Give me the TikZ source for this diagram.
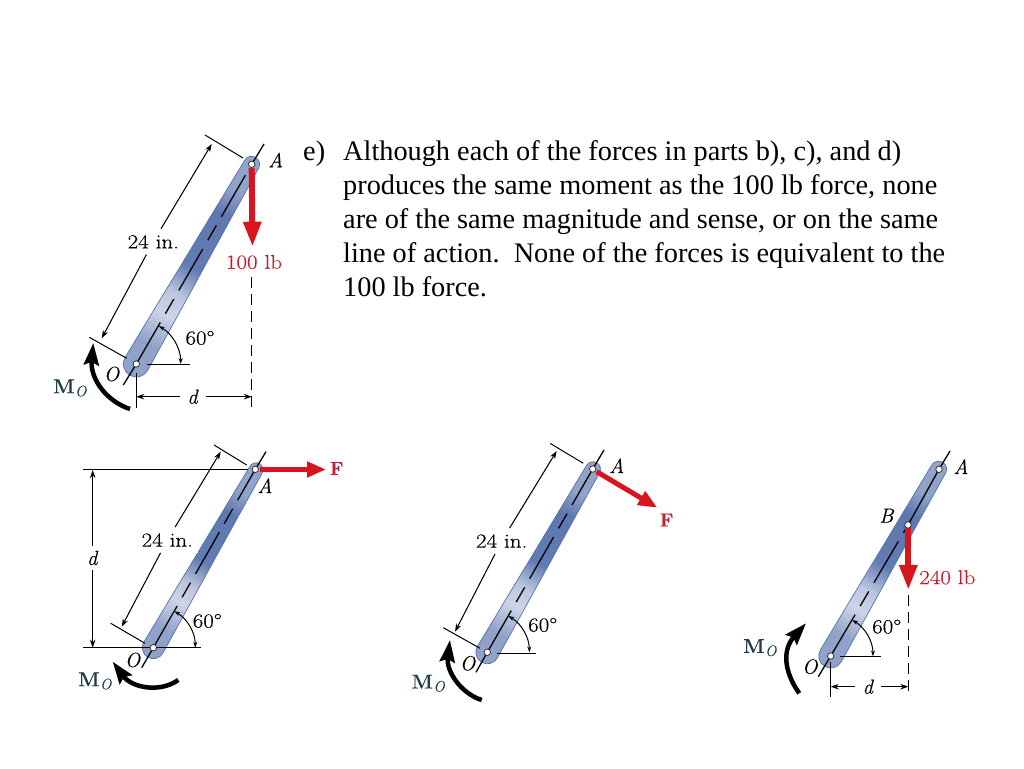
\documentclass[tikz,border=0pt]{standalone}
\usepackage{fontspec}
\usepackage{graphicx}
\usetikzlibrary{arrows.meta,calc}
\newfontfamily\bodyfont{Liberation Serif}
\newfontfamily\lblfont[FakeBold=0.25]{Latin Modern Roman}
\definecolor{forcered}{HTML}{D8141E}
\definecolor{labelred}{HTML}{C41E2E}
\definecolor{labelteal}{HTML}{1F3D4A}
\definecolor{rodedge}{HTML}{5570AC}
\pgfdeclareverticalshading{rodsh}{100bp}{
 color(0bp)=(rodedge!65!white);
 color(27bp)=(rodedge!65!white);
 color(36bp)=(rodedge!30!white);
 color(42bp)=(rodedge!40!white);
 color(50bp)=(rodedge!92!white);
 color(66bp)=(rodedge!95!white);
 color(73bp)=(rodedge!65!white);
 color(100bp)=(rodedge!60!white)}
\tikzset{
 lbl/.style={font=\lblfont\fontsize{20.5}{22}\selectfont,inner sep=0pt,text=black},
 wlbl/.style={font=\lblfont\fontsize{20}{22}\selectfont,inner sep=0pt,text=black},
 redlbl/.style={wlbl,text=labelred},
 gaplbl/.style={wlbl,fill=white,inner xsep=5pt,inner ysep=6pt},
 textline/.style={anchor=base west,inner sep=0pt,font=\bodyfont\fontsize{28.3}{34}\selectfont},
 thin line/.style={line width=1pt,black},
 dim/.style={line width=1.05pt,black,-{Stealth[length=8pt,width=5.5pt]}},
 ctr/.style={line width=1.3pt,black},
 ctrdash/.style={ctr,dash pattern=on 48pt off 10pt on 17pt off 10pt},
 leader/.style={line width=1.2pt,black,dash pattern=on 11pt off 6pt},
 force/.style={line width=6pt,forcered,-{Triangle[length=25pt,width=17pt]}},
 forcethin/.style={line width=5pt,forcered,-{Triangle[length=19pt,width=15pt]}},
 moment/.style={line width=4.5pt,black,-{Stealth[length=22pt,width=15pt,inset=3pt]}},
 ang/.style={line width=1pt,black,{Stealth[length=6pt,width=4pt]}-{Stealth[length=6pt,width=4pt]}},
 hole/.style={circle,draw=black!80,line width=0.8pt,fill=white,inner sep=0pt,minimum size=6.5pt},
 flab/.style={lbl,text=labelred,font=\lblfont\bfseries\fontsize{19}{21}\selectfont},
 mlab/.style={lbl,text=labelteal,font=\lblfont\fontsize{20}{22}\selectfont},
}
% pixel coordinate, y measured from the top
\newcommand\pxc[3]{\coordinate (#1) at (#2,{768-#3});}
\newcommand\wtxt[1]{\scalebox{1.15}[1]{#1}}
% tapered bar: origin, length, radius at O, radius at A
\newcommand\rodbar[4]{%
 \begin{scope}[shift={(#1)},rotate=60]
 \path[shading=rodsh,shading angle=-30,draw=rodedge,line width=0.7pt]
   (0,-#3) -- (#2,-#4) arc (-90:90:#4) -- (0,#3) arc (90:270:#3) -- cycle;
 \end{scope}}
\newcommand\Mo{\textbf{M}\kern0.5pt\raisebox{-3pt}{\fontsize{15}{16}\selectfont\textit{O}}}
\begin{document}
\begin{tikzpicture}[x=1pt,y=1pt]
\useasboundingbox (0,0) rectangle (1024,768);

% ---------- text
\node[textline] (ee) at (303,{768-160.5}) {e)};
\node[textline] (l1) at (343,{768-160.5}) {Although each of the forces in parts b), c), and d)};
\node[textline] (l2) at (343,{768-194.5}) {produces the same moment as the 100 lb force, none};
\node[textline] (l3) at (343,{768-228.5}) {are of the same magnitude and sense, or on the same};
\node[textline] (l4) at (343,{768-262.5}) {line of action.\ \ None of the forces is equivalent to the};
\node[textline] (l5) at (343,{768-296.5}) {100 lb force.};

% ---------- figure 1
\pxc{oa}{136.3}{364}\pxc{aa}{251.7}{164.3}
\rodbar{oa}{230.6}{13}{8}
\pxc{oaTop}{264}{144}\pxc{oaBot}{123.3}{385}
\draw[ctr] (oa) -- (oaBot);
\draw[ctrdash] (oa) -- (aa);
\draw[ctr] (aa) -- (oaTop);
\pxc{e1a}{205}{135}\pxc{e1b}{243}{158}\pxc{e1c}{89.3}{337.3}\pxc{e1d}{126.7}{358.3}
\draw[thin line] (e1a) -- (e1b);
\draw[thin line] (e1c) -- (e1d);
\node[gaplbl] (t1) at (153.3,{768-241.7}) {\wtxt{24 in.}};
\pxc{d1a}{211.7}{144}\pxc{d1b}{101.7}{338.3}
\draw[dim] (t1) -- (d1a);
\draw[dim] (t1) -- (d1b);
\pxc{h1s}{146.7}{364.5}\pxc{h1}{190}{364.5}
\draw[thin line] (h1s) -- (h1);
\pxc{a1s}{158.7}{326}
\draw[ang] (a1s) arc (60:0:44);
\node[wlbl] (ang1) at (200,{768-338}) {\wtxt{60°}};
\pxc{f1s}{251.7}{168}\pxc{f1e}{252.5}{246.7}
\draw[force] (f1s) -- (f1e);
\node[redlbl] (f1) at (254,{768-262}) {\wtxt{100 lb}};
\pxc{l1a}{251.7}{277}\pxc{l1b}{251.7}{408}
\draw[leader] (l1a) -- (l1b);
\pxc{x1a}{136.3}{373}\pxc{x1b}{136.3}{408}
\draw[thin line] (x1a) -- (x1b);
\node[lbl,fill=white,inner xsep=7pt,inner ysep=2pt] (d1) at (193,{768-396.7}) {\textit{d}};
\pxc{d1l}{136.3}{396.7}\pxc{d1r}{251.7}{396.7}
\draw[dim] (d1) -- (d1l);
\draw[dim] (d1) -- (d1r);
\pxc{m1a}{130}{409}\pxc{m1c}{108}{402}\pxc{m1d}{90}{380}\pxc{m1b}{93.3}{343}
\draw[moment] (m1a) .. controls (m1c) and (m1d) .. (m1b);
\node[hole] (ha) at (aa) {};
\node[hole] (ho) at (oa) {};
\node[lbl] (lA1) at (275.7,{768-160}) {\textit{A}};
\node[lbl] (lO1) at (111.7,{768-374}) {\textit{O}};
\node[mlab] (lM1) at (70,{768-388}) {\Mo};

% ---------- figure 2
\pxc{ob}{153.3}{647.7}\pxc{ab}{255.3}{469.3}
\rodbar{ob}{205.5}{11}{7}
\pxc{obTop}{266}{451.7}\pxc{obBot}{141.7}{667.7}
\draw[ctr] (ob) -- (obBot);
\draw[ctrdash] (ob) -- (ab);
\draw[ctr] (ab) -- (obTop);
\pxc{e2a}{214}{445}\pxc{e2b}{246.7}{465}\pxc{e2c}{110.7}{623.3}\pxc{e2d}{145}{643.3}
\draw[thin line] (e2a) -- (e2b);
\draw[thin line] (e2c) -- (e2d);
\node[gaplbl] (t2) at (167.3,{768-540}) {\wtxt{24 in.}};
\pxc{d2a}{220.7}{451.7}\pxc{d2b}{121.7}{626.7}
\draw[dim] (t2) -- (d2a);
\draw[dim] (t2) -- (d2b);
\pxc{h2a}{83.3}{469.7}\pxc{h2b}{248}{469.7}\pxc{h2c}{83.3}{647.7}\pxc{h2d}{200.7}{647.7}
\draw[thin line] (h2a) -- (h2b);
\draw[thin line] (h2c) -- (ob);
\draw[thin line] (ob) -- (h2d);
\node[lbl,fill=white,inner ysep=5pt,inner xsep=2pt] (d2) at (92.7,{768-558}) {\textit{d}};
\pxc{d2t}{92.7}{470}\pxc{d2u}{92.7}{647.7}
\draw[dim] (d2) -- (d2t);
\draw[dim] (d2) -- (d2u);
\pxc{a2s}{174.3}{611.3}
\draw[ang] (a2s) arc (60:0:42);
\node[wlbl] (ang2) at (207.3,{768-621}) {\wtxt{60°}};
\pxc{f2s}{260}{469.5}\pxc{f2e}{326}{469.5}
\draw[forcethin] (f2s) -- (f2e);
\node[flab] (f2) at (336.7,{768-468.5}) {F};
\pxc{m2a}{178.3}{680}\pxc{m2c}{160}{693}\pxc{m2d}{132}{688}\pxc{m2b}{112.7}{661.7}
\draw[moment] (m2a) .. controls (m2c) and (m2d) .. (m2b);
\node[hole] (hb) at (ab) {};
\node[hole] (hc) at (ob) {};
\node[lbl] (lA2) at (265,{768-485.7}) {\textit{A}};
\node[lbl] (lO2) at (132.7,{768-660}) {\textit{O}};
\node[mlab] (lM2) at (95,{768-681}) {\Mo};

% ---------- figure 3
\pxc{oc}{487.3}{652.3}\pxc{ac}{592.7}{469}
\rodbar{oc}{211.4}{11.5}{7.5}
\pxc{ocTop}{604}{450}\pxc{ocBot}{476}{672.3}
\draw[ctr] (oc) -- (ocBot);
\draw[ctrdash] (oc) -- (ac);
\draw[ctr] (ac) -- (ocTop);
\pxc{e3a}{550}{443.3}\pxc{e3b}{583.3}{463.3}\pxc{e3c}{443.3}{627.7}\pxc{e3d}{480}{648.3}
\draw[thin line] (e3a) -- (e3b);
\draw[thin line] (e3c) -- (e3d);
\node[gaplbl] (t3) at (501.7,{768-541}) {\wtxt{24 in.}};
\pxc{d3a}{556.7}{451}\pxc{d3b}{455}{631.7}
\draw[dim] (t3) -- (d3a);
\draw[dim] (t3) -- (d3b);
\pxc{h3s}{496.7}{653.5}\pxc{h3}{536}{653.5}
\draw[thin line] (h3s) -- (h3);
\pxc{a3s}{508.3}{616}
\draw[ang] (a3s) arc (60:0:42);
\node[wlbl] (ang3) at (542.7,{768-625}) {\wtxt{60°}};
\pxc{f3s}{596.7}{471.7}\pxc{f3e}{657.3}{507.7}
\draw[forcethin] (f3s) -- (f3e);
\node[flab] (f3) at (666.7,{768-520}) {F};
\pxc{m3a}{481.7}{700}\pxc{m3c}{462}{694}\pxc{m3d}{446}{672}\pxc{m3b}{450}{640}
\draw[moment] (m3a) .. controls (m3c) and (m3d) .. (m3b);
\node[hole] (hd) at (ac) {};
\node[hole] (he) at (oc) {};
\node[lbl] (lA3) at (616.7,{768-465.7}) {\textit{A}};
\node[lbl] (lO3) at (467.7,{768-663.3}) {\textit{O}};
\node[mlab] (lM3) at (428.3,{768-683.3}) {\Mo};

% ---------- figure 4
\pxc{od}{830.7}{656}\pxc{ad}{939}{469.3}\pxc{bd}{908}{525}
\rodbar{od}{215.8}{12}{8}
\pxc{odTop}{950}{451}\pxc{odBot}{818.3}{676.7}
\draw[ctr] (od) -- (odBot);
\draw[ctrdash] (od) -- (bd);
\draw[ctr] (bd) -- (ad);
\draw[ctr] (ad) -- (odTop);
\pxc{h4s}{840}{656.5}\pxc{h4}{880.7}{656.5}
\draw[thin line] (h4s) -- (h4);
\pxc{a4s}{852}{620}
\draw[ang] (a4s) arc (60:0:42);
\node[wlbl] (ang4) at (886.7,{768-626.7}) {\wtxt{60°}};
\pxc{f4s}{908.3}{528}\pxc{f4e}{908.3}{590}
\draw[force] (f4s) -- (f4e);
\node[redlbl] (f4) at (947.3,{768-577.3}) {\wtxt{240 lb}};
\pxc{l4a}{908.3}{595}\pxc{l4b}{908.3}{697}
\draw[leader] (l4a) -- (l4b);
\pxc{x4a}{830.7}{662}\pxc{x4b}{830.7}{697}
\draw[thin line] (x4a) -- (x4b);
\node[lbl,fill=white,inner xsep=7pt,inner ysep=2pt] (d4) at (868.3,{768-686.7}) {\textit{d}};
\pxc{d4l}{830.7}{686.7}\pxc{d4r}{908.3}{686.7}
\draw[dim] (d4) -- (d4l);
\draw[dim] (d4) -- (d4r);
\pxc{m4a}{799.3}{693.3}\pxc{m4c}{784}{672}\pxc{m4d}{782}{650}\pxc{m4b}{806}{623.3}
\draw[moment] (m4a) .. controls (m4c) and (m4d) .. (m4b);
\node[hole] (hf) at (ad) {};
\node[hole] (hg) at (od) {};
\node[hole] (hh) at (bd) {};
\node[lbl] (lA4) at (961,{768-466.7}) {\textit{A}};
\node[lbl] (lB4) at (886.7,{768-515.7}) {\textit{B}};
\node[lbl] (lO4) at (810,{768-666.7}) {\textit{O}};
\node[mlab] (lM4) at (760,{768-647.7}) {\Mo};
\end{tikzpicture}
\end{document}
